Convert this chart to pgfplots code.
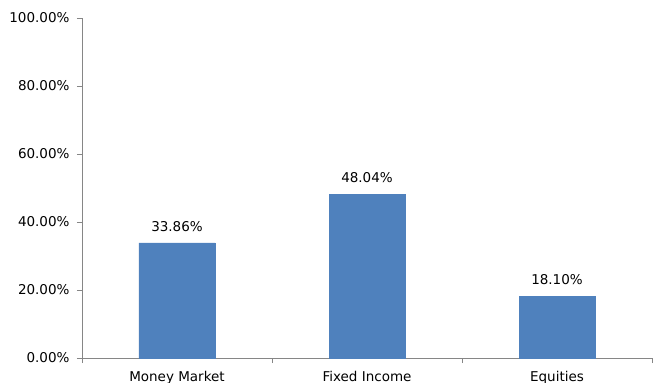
\documentclass[border=0pt]{standalone}
\usepackage{pgfplots}
\pgfplotsset{compat=1.18}
\usepackage{fontspec}
\setmainfont{DejaVu Sans}
\usetikzlibrary{calc}
\definecolor{barblue}{HTML}{4F81BD}
\definecolor{axgrey}{HTML}{868686}
\begin{document}
\begin{tikzpicture}
\begin{axis}[
  scale only axis,
  width=570bp, height=340bp,
  xmin=-0.5, xmax=2.5,
  ymin=0, ymax=100,
  axis lines=left,
  axis line style={axgrey, -},
  ytick={0,20,40,60,80,100},
  yticklabel={\pgfmathprintnumber[fixed,fixed zerofill,precision=2]{\tick}\%},
  xtick={-0.5,0.5,1.5,2.5},
  xticklabels={},
  extra x ticks={0,1,2},
  extra x tick labels={Money Market, Fixed Income, Equities},
  extra x tick style={major tick length=0pt, xticklabel style={yshift=-10bp}},
  tick style={axgrey},
  major tick length=5bp,
  tick align=outside,
  /pgf/number format/assume math mode=true,
  tick label style={font=\fontsize{13.5bp}{16bp}\selectfont, black},
  yticklabel style={xshift=-4bp},
  ybar,
  bar width=0.4,
  nodes near coords={\pgfmathprintnumber[fixed,fixed zerofill,precision=2]{\pgfplotspointmeta}\%},
  nodes near coords style={font=\fontsize{13.5bp}{16bp}\selectfont, black, yshift=8bp},
]
\addplot[fill=barblue, draw=barblue] coordinates {(0,33.86) (1,48.04) (2,18.10)};
\coordinate (O) at (rel axis cs:0,0);
\end{axis}
\pgfresetboundingbox
\path[use as bounding box] ($(O)+(-82bp,-25bp)$) rectangle ($(O)+(572bp,358bp)$);
\end{tikzpicture}
\end{document}
